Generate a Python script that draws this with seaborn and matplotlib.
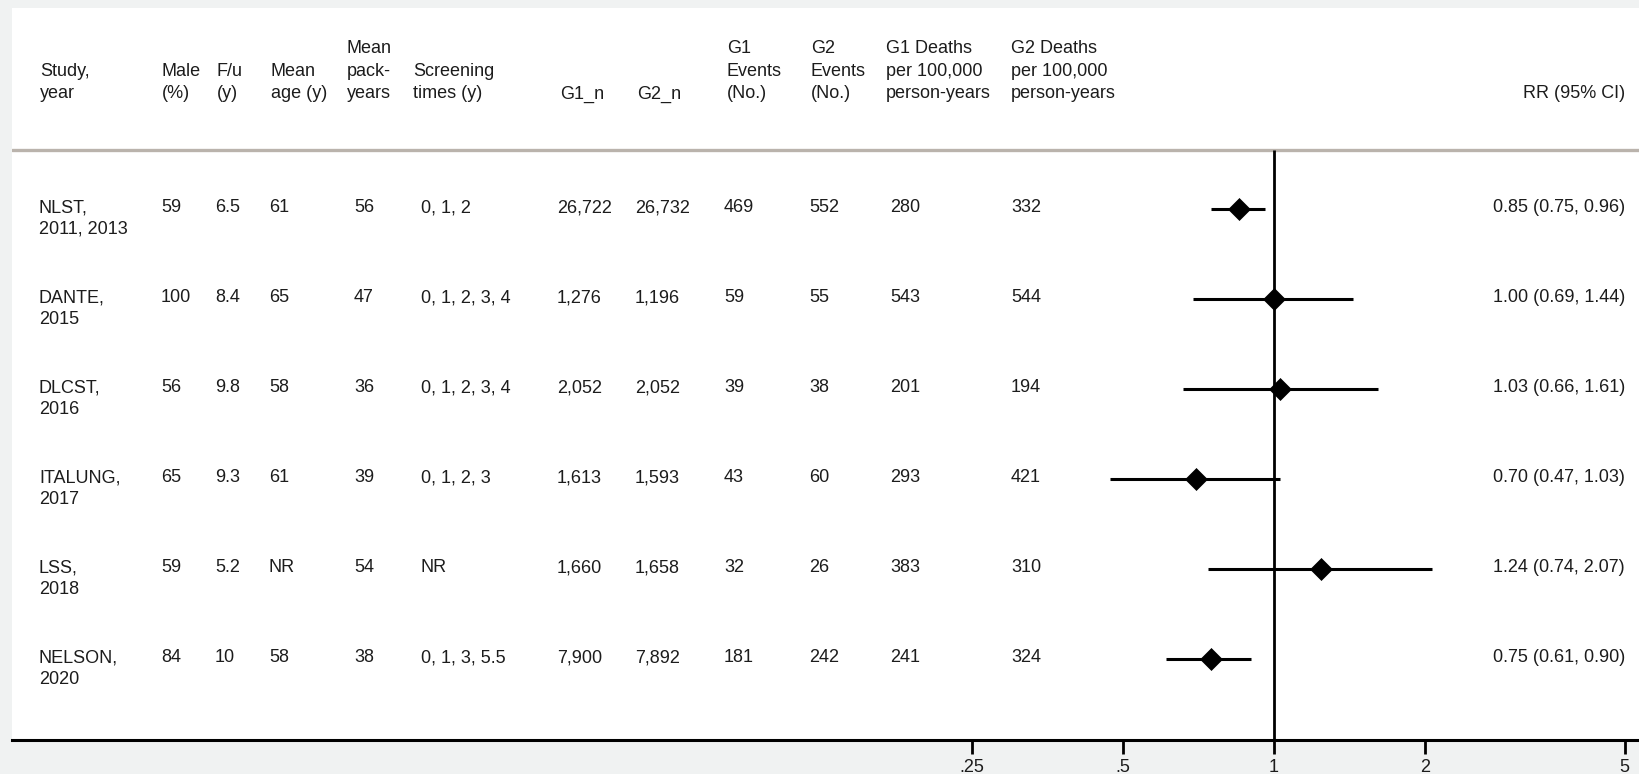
import numpy as np
import pandas as pd
import matplotlib
matplotlib.use("Agg")
import matplotlib.pyplot as plt
import matplotlib.transforms as mtransforms
import seaborn as sns

# ---- data -------------------------------------------------------------
studies = ["NLST,\n2011, 2013", "DANTE,\n2015", "DLCST,\n2016",
           "ITALUNG,\n2017", "LSS,\n2018", "NELSON,\n2020"]
male_pct = ["59", "100", "56", "65", "59", "84"]
followup = ["6.5", "8.4", "9.8", "9.3", "5.2", "10"]
mean_age = ["61", "65", "58", "61", "NR", "58"]
pack_years = ["56", "47", "36", "39", "54", "38"]
screening = ["0, 1, 2", "0, 1, 2, 3, 4", "0, 1, 2, 3, 4", "0, 1, 2, 3", "NR", "0, 1, 3, 5.5"]
g1_n = ["26,722", "1,276", "2,052", "1,613", "1,660", "7,900"]
g2_n = ["26,732", "1,196", "2,052", "1,593", "1,658", "7,892"]
g1_events = ["469", "59", "39", "43", "32", "181"]
g2_events = ["552", "55", "38", "60", "26", "242"]
g1_deaths = ["280", "543", "201", "293", "383", "241"]
g2_deaths = ["332", "544", "194", "421", "310", "324"]
rr = [0.85, 1.00, 1.03, 0.70, 1.24, 0.75]
rr_lo = [0.75, 0.69, 0.66, 0.47, 0.74, 0.61]
rr_hi = [0.96, 1.44, 1.61, 1.03, 2.07, 0.90]

headers = ["Study,\nyear", "Male\n(%)", "F/u\n(y)", "Mean\nage (y)",
           "Mean\npack-\nyears", "Screening\ntimes (y)", "G1_n", "G2_n",
           "G1\nEvents\n(No.)", "G2\nEvents\n(No.)",
           "G1 Deaths\nper 100,000\nperson-years",
           "G2 Deaths\nper 100,000\nperson-years"]
rr_header = "RR (95% CI)"
tick_values = [0.25, 0.5, 1, 2, 5]
tick_labels = [".25", ".5", "1", "2", "5"]

columns = [studies, male_pct, followup, mean_age, pack_years, screening,
           g1_n, g2_n, g1_events, g2_events, g1_deaths, g2_deaths]

df = pd.DataFrame({"row": np.arange(len(studies)), "rr": rr,
                   "lo": rr_lo, "hi": rr_hi})

# ---- layout (pixels of a 1640 x 774 canvas) ------------------------------
W, H = 1640, 774
panel_left, panel_top, panel_bottom = 12, 8, 740
row0_px, row_step_px = 209, 90
header_x = [40, 162, 217, 271, 347, 413, 560, 637, 727, 811, 886, 1011]
data_x = [39, 161, 215, 269, 354, 421, 557, 635, 724, 809, 890, 1011]
rr_text_right = 1625
ref_px, px_per_doubling = 1274, 151


def row_units(px):
    return (px - row0_px) / row_step_px


sns.set_theme(style="white")
plt.rcParams["font.family"] = ["Liberation Sans", "DejaVu Sans"]
fs = 13.0
ink = "#1c1c1c"

fig = plt.figure(figsize=(W / 100, H / 100), dpi=100, facecolor="#f0f2f2")
ax = fig.add_axes([panel_left / W, (H - panel_bottom) / H,
                   (W - panel_left) / W, (panel_bottom - panel_top) / H])
ax.set_facecolor("white")

ax.set_xscale("log", base=2)
ax.set_xlim(2 ** ((panel_left - ref_px) / px_per_doubling),
            2 ** ((W - ref_px) / px_per_doubling))
ax.set_ylim(row_units(panel_bottom), row_units(panel_top))

# reference line at RR = 1
rule_y = row_units(150)
ax.vlines(1, rule_y, row_units(panel_bottom), color="black", lw=2.0, zorder=2)

# confidence intervals and point estimates
ax.hlines(df["row"], df["lo"], df["hi"], color="black", lw=2.2, zorder=3)
sns.scatterplot(data=df, x="rr", y="row", marker="D", s=125, color="black",
                edgecolor="black", linewidth=0.5, ax=ax, zorder=4, legend=False)
ax.set_xlabel("")
ax.set_ylabel("")

# header separator
ax.axhline(rule_y, color="#bab3ac", lw=2.4, zorder=1)

# axis styling
for side in ["top", "left", "right"]:
    ax.spines[side].set_visible(False)
ax.spines["bottom"].set_color("black")
ax.spines["bottom"].set_linewidth(2.2)
ax.set_yticks([])
ax.xaxis.set_minor_locator(matplotlib.ticker.NullLocator())
ax.set_xticks(tick_values)
ax.set_xticklabels(tick_labels)
ax.tick_params(axis="x", direction="out", length=10, width=2.0, color="black",
               pad=3.5, labelsize=fs, labelcolor=ink, bottom=True)

# table text: x in figure pixels, y in row units
trans = mtransforms.blended_transform_factory(
    mtransforms.Affine2D().scale(1 / W, 1) + fig.transFigure, ax.transData)

header_lines_px = [49, 71.5, 94]
for x, h in zip(header_x, headers):
    lines = h.split("\n")
    for ln, ypx in zip(lines, header_lines_px[-len(lines):]):
        ax.text(x, row_units(ypx), ln, transform=trans, ha="left", va="center",
                fontsize=fs, color=ink)
ax.text(rr_text_right, row_units(94), rr_header, transform=trans, ha="right",
        va="center", fontsize=fs, color=ink)

for i in range(len(studies)):
    base = i - 1 / row_step_px
    for x, col in zip(data_x, columns):
        lines = col[i].split("\n")
        for k, ln in enumerate(lines):
            ax.text(x, base + k * 21.5 / row_step_px, ln, transform=trans,
                    ha="left", va="center", fontsize=fs, color=ink)
    label = f"{rr[i]:.2f} ({rr_lo[i]:.2f}, {rr_hi[i]:.2f})"
    ax.text(rr_text_right, base, label, transform=trans, ha="right",
            va="center", fontsize=fs, color=ink)

fig.savefig("out.png", dpi=100, facecolor=fig.get_facecolor())
